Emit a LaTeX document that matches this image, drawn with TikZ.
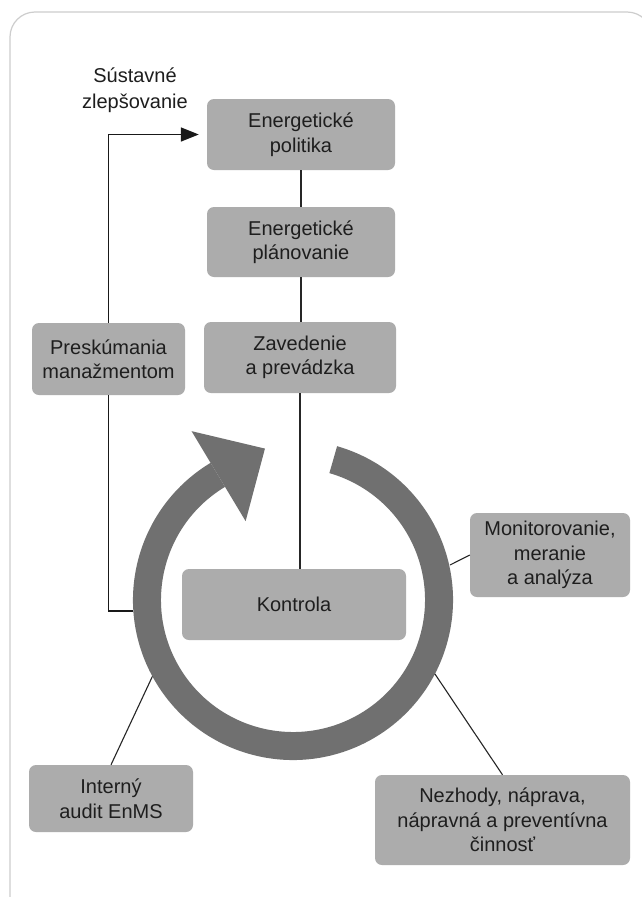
\documentclass[tikz,border=0pt]{standalone}
\usepackage{fontspec}
\setmainfont{Liberation Sans}
\usetikzlibrary{arrows.meta}
\definecolor{boxgray}{RGB}{172,172,172}
\definecolor{ringgray}{RGB}{112,112,112}
\definecolor{inkgray}{RGB}{30,30,30}
\definecolor{framegray}{RGB}{205,205,205}
\tikzset{
  stagebox/.style={fill=boxgray, rounded corners=7pt, text=inkgray, align=center,
    inner sep=0pt, font=\fontsize{20}{24.5}\selectfont},
  plainlabel/.style={text=inkgray, align=center, inner sep=0pt,
    font=\fontsize{20}{26}\selectfont},
  link/.style={draw=black!85, line width=1.3pt},
  feedback/.style={draw=black!90, line width=1.7pt}
}
\begin{document}
\begin{tikzpicture}[x=1pt,y=1pt]
\useasboundingbox (0,0) rectangle (641,-897);
\fill[white] (0,0) rectangle (641,-897);
% outer frame
\draw[framegray, line width=1.2pt, rounded corners=25pt] (10,-12) rectangle (652,-925);

% circular arrow of the cycle
\begin{scope}[shift={(293,-600)}]
  \fill[ringgray] (74:160pt) arc[start angle=74, end angle=-239, radius=160pt]
     -- (-239:132pt) arc[start angle=-239, end angle=74, radius=132pt] -- cycle;
  \fill[ringgray] (121:92pt) -- (121:197pt) -- (100.5:154pt) -- cycle;
\end{scope}
\coordinate (ringW)  at (133,-611);
\coordinate (ringE)  at (450,-565);
\coordinate (ringSW) at (152.4,-676.4);
\coordinate (ringSE) at (434.9,-673.9);

% stages
\node[stagebox, minimum width=188pt, minimum height=71pt] (pol)   at (301,-134.5) {Energetické\\politika};
\node[stagebox, minimum width=188pt, minimum height=70pt] (plan)  at (301,-242)   {Energetické\\plánovanie};
\node[stagebox, minimum width=192pt, minimum height=71pt] (zav)   at (300,-357.5) {Zavedenie\\a prevádzka};
\node[stagebox, minimum width=153pt, minimum height=72pt] (presk) at (108.5,-359) {Preskúmania\\manažmentom};
\node[stagebox, minimum width=224pt, minimum height=71pt] (kontr) at (294,-604.5) {Kontrola};
\node[stagebox, minimum width=160pt, minimum height=84pt] (monit) at (550,-555)   {Monitorovanie,\\meranie\\a analýza};
\node[stagebox, minimum width=164pt, minimum height=67pt] (audit) at (111,-798.5) {Interný\\audit EnMS};
\node[stagebox, minimum width=255pt, minimum height=90pt] (nezh)  at (502.5,-820) {Nezhody, náprava,\\nápravná a preventívna\\činnosť};

\node[plainlabel] (kaizen) at (135,-90) {Sústavné\\zlepšovanie};

% connectors
\draw[link] (pol) -- (plan);
\draw[link] (plan.south) -- (plan.south |- zav.north);
\draw[link] (zav.south) -- (zav.south |- kontr.north);
\draw[feedback] (ringW) -| (presk.south);
\draw[feedback, -{Triangle[length=18pt,width=14pt]}, shorten >=8pt] (presk.north) |- (pol.west);
\draw[link, line width=1.1pt] (monit.west) -- (ringE);
\draw[link, line width=1.1pt] (audit.north) -- (ringSW);
\draw[link, line width=1.1pt] (nezh.north) -- (ringSE);
\end{tikzpicture}
\end{document}
